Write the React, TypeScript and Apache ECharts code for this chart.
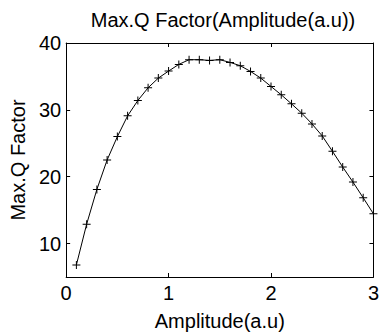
import React, { useEffect, useRef } from "react";
import * as echarts from "echarts";

const titleText = "Max.Q Factor(Amplitude(a.u))";
const xName = "Amplitude(a.u)";
const yName = "Max.Q Factor";
const amplitudes = [0.1, 0.2, 0.3, 0.4, 0.5, 0.6, 0.7, 0.8, 0.9, 1.0, 1.1, 1.2, 1.3, 1.4, 1.5, 1.6, 1.7, 1.8, 1.9, 2.0, 2.1, 2.2, 2.3, 2.4, 2.5, 2.6, 2.7, 2.8, 2.9, 3.0];
const qFactors = [6.8, 12.9, 18.1, 22.5, 26.0, 29.1, 31.4, 33.3, 34.75, 35.8, 36.8, 37.5, 37.5, 37.4, 37.5, 37.1, 36.6, 35.75, 34.75, 33.5, 32.25, 30.9, 29.5, 27.9, 26.1, 23.8, 21.45, 19.2, 16.85, 14.45];
const yTicks = [10, 20, 30, 40];

const FONT = "'Liberation Sans', Arial, Helvetica, sans-serif";
const PLUS = "path://M3.5,0H4.5V3.5H8V4.5H4.5V8H3.5V4.5H0V3.5H3.5Z";

export default function App() {
  const ref = useRef<HTMLDivElement>(null);
  useEffect(() => {
    if (!ref.current) return;
    const chart = echarts.init(ref.current, null, { renderer: "svg" });
    const axisLine = { show: true, onZero: false, lineStyle: { color: "#000", width: 1 } };
    const tick = { show: true, inside: true, length: 4, lineStyle: { color: "#000", width: 1 } };
    const xBase = {
      type: "value" as const,
      min: 0,
      max: 3,
      interval: 1,
      axisLine,
      axisTick: tick,
      splitLine: { show: false },
    };
    const yBase = {
      type: "value" as const,
      min: 5,
      max: 40,
      axisLine,
      axisTick: { ...tick, customValues: yTicks },
      splitLine: { show: false },
    };
    chart.setOption({
      animation: false,
      backgroundColor: "#fff",
      title: {
        text: titleText,
        left: 218,
        textAlign: "center",
        top: 5,
        textStyle: { fontFamily: FONT, fontSize: 20, fontWeight: "normal", color: "#000" },
      },
      grid: { left: 59, right: 5, top: 43, bottom: 50, containLabel: false },
      xAxis: [
        {
          ...xBase,
          position: "bottom",
          name: xName,
          nameLocation: "middle",
          nameGap: 34,
          nameTextStyle: { fontFamily: FONT, fontSize: 20, color: "#000" },
          axisLabel: { show: true, margin: 6, fontFamily: FONT, fontSize: 20, color: "#000" },
        },
        { ...xBase, position: "top", axisLabel: { show: false } },
      ],
      yAxis: [
        {
          ...yBase,
          position: "left",
          name: yName,
          nameLocation: "middle",
          nameGap: 33,
          nameTextStyle: { fontFamily: FONT, fontSize: 20, color: "#000" },
          axisLabel: { show: true, margin: 5, fontFamily: FONT, fontSize: 20, color: "#000", customValues: yTicks },
        },
        { ...yBase, position: "right", axisLabel: { show: false } },
      ],
      series: [
        {
          type: "line",
          xAxisIndex: 0,
          yAxisIndex: 0,
          data: amplitudes.map((a, i) => [a, qFactors[i]]),
          lineStyle: { color: "#000", width: 1 },
          itemStyle: { color: "#000" },
          symbol: PLUS,
          symbolSize: 8,
          showSymbol: true,
          showAllSymbol: true,
        },
      ],
    });
    return () => chart.dispose();
  }, []);
  return (
    <div
      ref={ref}
      style={{ position: "fixed", left: 0, top: 0, width: 382, height: 336 }}
    />
  );
}
